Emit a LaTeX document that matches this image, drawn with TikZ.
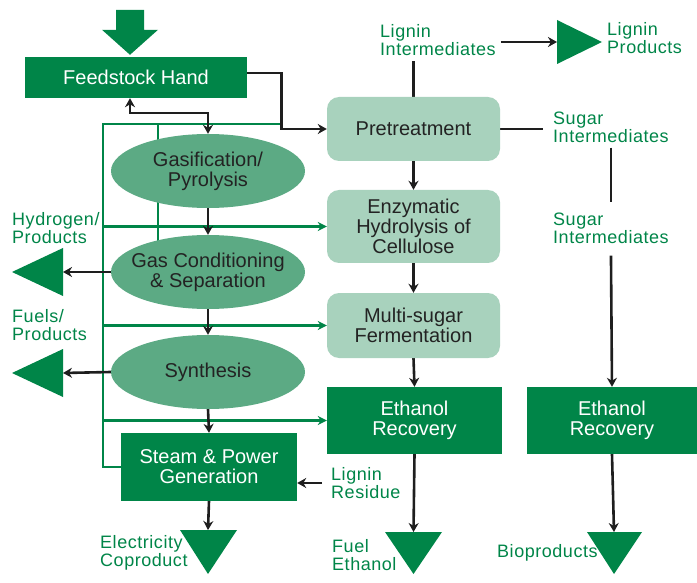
\documentclass[tikz,border=0pt]{standalone}
\usepackage{fontspec}
\setmainfont{Liberation Sans}
\newfontfamily\lblfont{Liberation Sans}[LetterSpace=3]
\usetikzlibrary{arrows.meta,shapes.geometric,calc,backgrounds}
\definecolor{dkg}{RGB}{0,133,72}
\definecolor{midg}{RGB}{92,170,132}
\definecolor{lgtg}{RGB}{168,210,189}
\definecolor{txt}{RGB}{35,35,35}
\definecolor{lnk}{RGB}{30,30,30}
\begin{document}
\begin{tikzpicture}[x=1pt,y=-1pt,
  boxfont/.style={font=\fontsize{20}{20}\selectfont},
  darkbox/.style={rectangle, fill=dkg, text=white, boxfont, align=center, inner sep=0},
  lightbox/.style={rectangle, rounded corners=12pt, fill=lgtg, text=txt, boxfont, align=center, inner sep=0, minimum width=173pt},
  ell/.style={ellipse, fill=midg, inner sep=0, minimum width=194pt, minimum height=74pt},
  elltext/.style={align=center, text=txt, font=\fontsize{20}{20}\selectfont},
  lbl/.style={text=dkg, font=\lblfont\fontsize{18}{18}\selectfont, align=left, inner sep=0, anchor=west},
  blk/.style={draw=lnk, line width=2.6pt},
  blkarr/.style={blk, -{Stealth[length=9pt,width=10pt]}},
  grn/.style={draw=dkg, line width=2.6pt},
  grnarr/.style={grn, -{Stealth[length=9pt,width=9pt]}},
  tri/.style={fill=dkg}
]
\useasboundingbox (0,0) rectangle (697,583);

% ---------- nodes ----------
\node[darkbox, minimum width=222pt, minimum height=41pt] (feed) at (136,77.5) {Feedstock Hand};

\node[ell, label={[elltext]center:{Gasification/\\Pyrolysis}}] (gas) at (208,171) {};
\node[ell, label={[elltext]center:{Gas Conditioning\\\& Separation}}] (gcs) at (208,272) {};
\node[ell, label={[elltext]center:{Synthesis}}] (syn) at (208,372) {};
\node[darkbox, minimum width=176pt, minimum height=68pt] (steam) at (209,467) {Steam \& Power\\Generation};

\node[lightbox, minimum height=64pt] (pre) at (413.5,129) {Pretreatment};
\node[lightbox, minimum height=73pt] (enz) at (413.5,226.5) {Enzymatic\\Hydrolysis of\\Cellulose};
\node[lightbox, minimum height=65pt] (ms) at (413.5,325.5) {Multi-sugar\\Fermentation};
\node[darkbox, minimum width=175pt, minimum height=67pt] (er1) at (414.5,420.5) {Ethanol\\Recovery};
\node[darkbox, minimum width=170pt, minimum height=67pt] (er2) at (612,420.5) {Ethanol\\Recovery};

% ---------- labels ----------
\node[lbl] (li) at (380,40) {Lignin\\Intermediates};
\node[lbl] (lp) at (607,38) {Lignin\\Products};
\node[lbl] (si1) at (553,127) {Sugar\\Intermediates};
\node[lbl] (si2) at (553,228) {Sugar\\Intermediates};
\node[lbl] (hp) at (12,228) {Hydrogen/\\Products};
\node[lbl] (fp) at (12,325) {Fuels/\\Products};
\node[lbl] (ec) at (100,553) {Electricity\\Coproduct};
\node[lbl] (lr) at (331,483) {Lignin\\Residue};
\node[lbl] (fe) at (332,555) {Fuel\\Ethanol};
\node[lbl] (bp) at (497,553) {Bioproducts};

% ---------- triangles ----------
\coordinate (ftip) at ([xshift=-6pt,yshift=2pt]feed.north);
\fill[tri] (ftip) -- ++(28,-25) -- ++(-14,0) -- ++(0,-20) -- ++(-28,0) -- ++(0,20) -- ++(-14,0) -- cycle;

\coordinate (t1) at (63,272);
\fill[tri] (t1) -- ++(0,-24) -- (12,272) -- (63,296) -- cycle;
\coordinate (t2) at (63,373);
\fill[tri] (t2) -- ++(0,-24) -- (12,373) -- (63,397) -- cycle;

\coordinate (tE) at (208,530);
\fill[tri] (180,530) -- (237,530) -- (208,574) -- cycle;
\coordinate (tF) at (413.5,532);
\fill[tri] (385,532) -- (442,532) -- (413.5,574) -- cycle;
\coordinate (tB) at (614,532);
\fill[tri] (587,532) -- (642,532) -- (614,574) -- cycle;
\coordinate (tR) at (557,42);
\fill[tri] (557,20) -- (602,42) -- (557,64) -- cycle;

\begin{pgfonlayer}{background}
% ---------- green connectors ----------
\coordinate (J) at (103,124);
\coordinate (K) at (281,124);
\coordinate (V) at (158,124);
\draw[grn] (K) -- (J) |- (steam.west);
\draw[grn] (V) -- (V |- gcs.center);
\draw[grnarr] (J |- enz.west) -- (enz.west);
\draw[grnarr] (J |- ms.west) -- (ms.west);
\draw[grnarr] (J |- er1.west) -- (er1.west);

% ---------- black connectors ----------
\draw[blkarr] ([yshift=4.5pt]feed.east) -- ++(34,0) |- (pre.west);
\coordinate (fb) at (130,113);
\draw[blk, {Stealth[length=9pt,width=10pt]}-{Stealth[length=9pt,width=10pt]}] (fb |- feed.south) -- (fb) -- (fb -| gas.north) -- (gas.north);
\draw[blkarr] (gas.south) -- (gcs.north);
\draw[blkarr] (gcs.south) -- (syn.north);
\draw[blkarr] (syn.south) -- (steam.north);
\draw[blkarr] (gcs.west) -- (t1);
\draw[blkarr] (syn.west) -- (t2);
\draw[blkarr] (steam.south) -- (tE);
\draw[blkarr] ([xshift=-9pt]lr.west) -- (lr.west -| steam.east);

\draw[blkarr] (pre.south) -- (enz.north);
\draw[blkarr] (enz.south) -- (ms.north);
\draw[blkarr] (ms.south) -- (er1.north);
\draw[blkarr] (er1.south) -- (tF);

\coordinate (lis) at ([yshift=-5pt]li.south);
\draw[blk] (pre.north) -- (pre.north |- lis);
\draw[blkarr] ([xshift=5pt]li.east |- tR) -- (tR);
\draw[blk] (pre.east) -- ([xshift=-10pt]si1.west |- pre.east);
\draw[blk] ([yshift=-5pt]si1.south) -- ([yshift=10pt]si2.north);
\draw[blkarr] ([yshift=-12pt]si2.south) -- (er2.north);
\draw[blkarr] (er2.south) -- (tB);
\end{pgfonlayer}
\end{tikzpicture}
\end{document}
